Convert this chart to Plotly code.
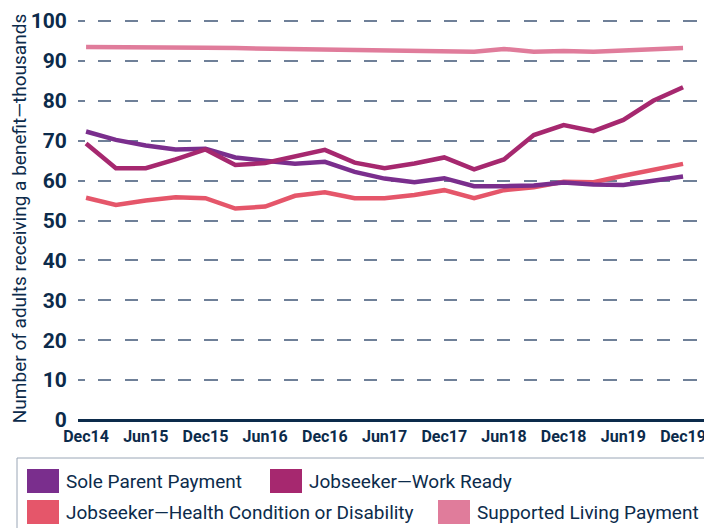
import plotly.graph_objects as go

quarters = ["Dec14", "Mar15", "Jun15", "Sep15", "Dec15", "Mar16", "Jun16", "Sep16", "Dec16",
            "Mar17", "Jun17", "Sep17", "Dec17", "Mar18", "Jun18", "Sep18", "Dec18",
            "Mar19", "Jun19", "Sep19", "Dec19"]
tick_labels = ["Dec14", "Jun15", "Dec15", "Jun16", "Dec16", "Jun17", "Dec17", "Jun18", "Dec18", "Jun19", "Dec19"]

sole_parent = [72.3, 70.2, 68.8, 67.8, 68.0, 65.8, 65.0, 64.2, 64.7, 62.2, 60.5, 59.6, 60.6,
               58.6, 58.6, 58.8, 59.5, 59.0, 58.9, 60.0, 61.0]
work_ready = [69.3, 63.1, 63.1, 65.3, 67.8, 63.9, 64.4, 66.0, 67.7, 64.5, 63.1, 64.3, 65.8,
              62.8, 65.3, 71.4, 73.9, 72.4, 75.2, 80.0, 83.4]
health = [55.7, 53.9, 55.0, 55.8, 55.6, 53.0, 53.5, 56.2, 57.1, 55.6, 55.6, 56.4, 57.6,
          55.6, 57.6, 58.3, 59.7, 59.6, 61.2, 62.7, 64.2]
supported = [93.5, 93.5, 93.5, 93.4, 93.3, 93.2, 93.1, 93.0, 92.9, 92.8, 92.7, 92.6, 92.5,
             92.3, 93.0, 92.3, 92.5, 92.3, 92.6, 92.9, 93.2]

series_names = ["Sole Parent Payment", "Jobseeker\u2014Work Ready",
                "Jobseeker\u2014Health Condition or Disability", "Supported Living Payment"]
series_values = [sole_parent, work_ready, health, supported]
colors = ["#7A2E8D", "#A6286F", "#E5566A", "#E07C9B"]

NAVY = "#0C2B4B"
OFF = 8  # page body margin
W, H = 712 - OFF, 528 - OFF
ML, MR, MT, MB = 70, 0, 9, 108
pw, ph = W - ML - MR, H - MT - MB

def px(x):
    return (x - OFF - ML) / pw

def py(y):
    return (H - MB - (y - OFF)) / ph

x_idx = list(range(len(quarters)))

grid_dash = "6.7px,13.3px," + ",".join(["13.3px,13.3px"] * 26)

fig = go.Figure()
draw_order = [3, 2, 0, 1]
for i in draw_order:
    fig.add_trace(go.Scatter(x=x_idx, y=series_values[i], mode="lines", name=series_names[i],
                             line=dict(color=colors[i], width=4.5), showlegend=False))

fig.update_layout(
    width=W, height=H,
    margin=dict(l=ML, r=MR, t=MT, b=MB),
    plot_bgcolor="white", paper_bgcolor="white",
    font=dict(family="Roboto", color=NAVY),
    xaxis=dict(range=[-0.27, 20.97], tickvals=[i for i in x_idx if i % 2 == 0],
               ticktext=tick_labels, showgrid=False, zeroline=False, showline=False,
               tickfont=dict(size=16, family="Roboto", color=NAVY, weight="bold"),
               ticks="outside", ticklen=2, tickcolor="rgba(0,0,0,0)"),
    yaxis=dict(range=[0, 101], tickvals=list(range(0, 101, 10)),
               showgrid=True, gridcolor="#6F8098", gridwidth=2, griddash=grid_dash,
               zeroline=True, zerolinecolor=NAVY, zerolinewidth=3, showline=False,
               tickfont=dict(size=21, family="Roboto", color=NAVY, weight="bold"),
               title=dict(text="Number of adults receiving a benefit\u2014thousands",
                          font=dict(size=19, family="Roboto", color=NAVY), standoff=1),
               ticks="outside", ticklen=6, tickcolor="rgba(0,0,0,0)"),
)

# manual legend
shapes = [dict(type="rect", xref="paper", yref="paper", x0=px(17), x1=px(708), y0=py(535), y1=py(458),
               line=dict(color="#9AA6B6", width=1), fillcolor="rgba(0,0,0,0)")]
legend_pos = [(27, 481), (270, 481), (27, 512), (438, 512)]
annotations = []
for i, (lx, ly) in enumerate(legend_pos):
    shapes.append(dict(type="rect", xref="paper", yref="paper", x0=px(lx), x1=px(lx + 32),
                       y0=py(ly + 12), y1=py(ly - 12), line=dict(width=0), fillcolor=colors[i]))
    annotations.append(dict(text=series_names[i], xref="paper", yref="paper", x=px(lx + 37), y=py(ly),
                            xanchor="left", yanchor="middle", showarrow=False,
                            font=dict(size=19, family="Roboto", color=NAVY)))
fig.update_layout(shapes=shapes, annotations=annotations)

fig.write_html("out.html")
